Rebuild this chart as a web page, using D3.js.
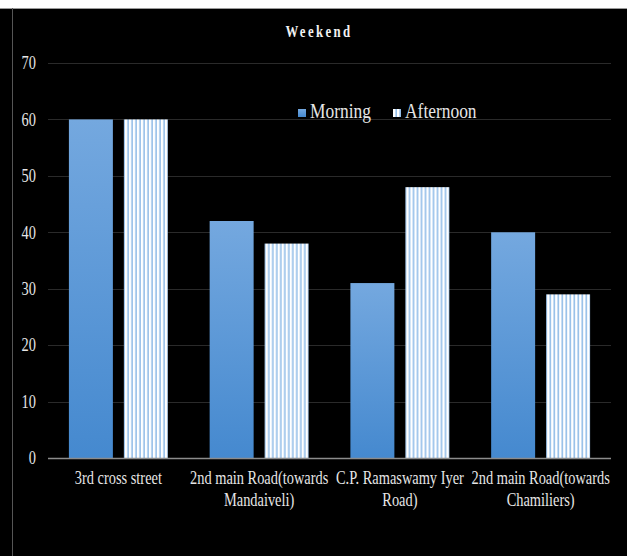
<!DOCTYPE html>
<html>
<head>
<meta charset="utf-8">
<script src="https://cdn.jsdelivr.net/npm/d3@7"></script>
<style>
  body { margin: 0; background: #fff; }
  svg { display: block; }
</style>
</head>
<body>
<script>
// Data
const categories = [
  ['3rd cross street'],
  ['2nd main Road(towards', 'Mandaiveli)'],
  ['C.P. Ramaswamy Iyer', 'Road)'],
  ['2nd main Road(towards', 'Chamiliers)']
];
const seriesNames = ['Morning', 'Afternoon'];
const morning = [60, 42, 31, 40];
const afternoon = [60, 38, 48, 29];
const yTicks = [0, 10, 20, 30, 40, 50, 60, 70];

const width = 627;
const height = 556;
const plotLeft = 48;
const plotRight = 611;
const plotTop = 63;
const plotBottom = 458;
const squeeze = 'scale(0.8,1)';

const svg = d3.select('body')
  .append('svg')
  .attr('width', width)
  .attr('height', height);

const defs = svg.append('defs');

// Morning gradient
const grad = defs.append('linearGradient')
  .attr('id', 'morningGrad')
  .attr('x1', 0).attr('y1', 0).attr('x2', 0).attr('y2', 1);
grad.append('stop').attr('offset', '0%').attr('stop-color', '#74a8df');
grad.append('stop').attr('offset', '100%').attr('stop-color', '#4589cf');

// Afternoon stripes
const pat = defs.append('pattern')
  .attr('id', 'stripes')
  .attr('patternUnits', 'userSpaceOnUse')
  .attr('width', 4)
  .attr('height', 4);
pat.append('rect').attr('width', 4).attr('height', 4).attr('fill', '#ffffff');
pat.append('rect').attr('x', 2.5).attr('width', 1.3).attr('height', 4).attr('fill', '#7aaee3');

// Background
svg.append('rect')
  .attr('x', 0).attr('y', 8)
  .attr('width', width).attr('height', height - 8)
  .attr('fill', '#000');
svg.append('line')
  .attr('x1', 0).attr('x2', width)
  .attr('y1', 8.5).attr('y2', 8.5)
  .attr('stroke', '#9a9a9a');
svg.append('line')
  .attr('x1', 12.5).attr('x2', 12.5)
  .attr('y1', 8).attr('y2', height)
  .attr('stroke', '#555');

// Scales
const x0 = d3.scaleBand()
  .domain(d3.range(categories.length))
  .range([plotLeft, plotRight])
  .paddingInner(0.297)
  .paddingOuter(0.1485);

const x1 = d3.scaleBand()
  .domain(seriesNames)
  .range([0, x0.bandwidth()])
  .paddingInner(0.2);

const y = d3.scaleLinear()
  .domain([0, 70])
  .range([plotBottom, plotTop]);

// Gridlines
svg.append('g')
  .selectAll('line')
  .data(yTicks.filter((d) => d > 0))
  .join('line')
  .attr('x1', plotLeft).attr('x2', plotRight)
  .attr('y1', (d) => Math.round(y(d)) + 0.5)
  .attr('y2', (d) => Math.round(y(d)) + 0.5)
  .attr('stroke', '#2a2a2a');

// Y axis labels
const yAxis = d3.axisLeft(y)
  .tickValues(yTicks)
  .tickSize(0)
  .tickPadding(0);
const yAxisG = svg.append('g')
  .attr('transform', 'translate(36,0)')
  .call(yAxis);
yAxisG.select('.domain').remove();
yAxisG.selectAll('text')
  .attr('fill', '#e6e6e6')
  .attr('font-family', '"Liberation Serif", serif')
  .attr('font-size', '18px')
  .attr('transform', squeeze);

// Bars
const groups = svg.append('g')
  .selectAll('g')
  .data(categories.map((c, i) => i))
  .join('g')
  .attr('transform', (i) => `translate(${x0(i)},0)`);

groups.append('rect')
  .attr('x', x1('Morning'))
  .attr('y', (i) => y(morning[i]))
  .attr('width', x1.bandwidth())
  .attr('height', (i) => y(0) - y(morning[i]))
  .attr('fill', 'url(#morningGrad)');

groups.append('rect')
  .attr('x', x1('Afternoon'))
  .attr('y', (i) => y(afternoon[i]))
  .attr('width', x1.bandwidth())
  .attr('height', (i) => y(0) - y(afternoon[i]))
  .attr('fill', 'url(#stripes)');

// Baseline
svg.append('line')
  .attr('x1', plotLeft).attr('x2', plotRight)
  .attr('y1', plotBottom + 0.5).attr('y2', plotBottom + 0.5)
  .attr('stroke', '#8c8c8c')
  .attr('stroke-width', 1.5);

// Category labels
const catText = svg.append('g')
  .selectAll('g')
  .data(categories)
  .join('g')
  .attr('transform', (d, i) => `translate(${x0(i) + x0.bandwidth() / 2},484) ${squeeze}`)
  .append('text')
  .attr('text-anchor', 'middle')
  .attr('fill', '#e6e6e6')
  .attr('font-family', '"Liberation Serif", serif')
  .attr('font-size', '18px');
catText.selectAll('tspan')
  .data((d) => d)
  .join('tspan')
  .attr('x', 0)
  .attr('dy', (d, j) => (j === 0 ? 0 : 22))
  .text((d) => d);

// Title
svg.append('text')
  .attr('transform', `translate(319,37) ${squeeze}`)
  .attr('text-anchor', 'middle')
  .attr('fill', '#f2f2f2')
  .attr('font-family', '"Liberation Serif", serif')
  .attr('font-size', '16px')
  .attr('font-weight', 'bold')
  .attr('letter-spacing', '3px')
  .text('Weekend');

// Legend
const legend = svg.append('g')
  .attr('transform', 'translate(298,109)');
const legendItems = [
  { name: seriesNames[0], fill: 'url(#morningGrad)', x: 0 },
  { name: seriesNames[1], fill: 'url(#stripes)', x: 95 }
];
const li = legend.selectAll('g')
  .data(legendItems)
  .join('g')
  .attr('transform', (d) => `translate(${d.x},0)`);
li.append('rect')
  .attr('width', 8).attr('height', 8)
  .attr('fill', (d) => d.fill);
li.append('text')
  .attr('transform', 'translate(12,9) scale(0.83,1)')
  .attr('fill', '#e6e6e6')
  .attr('font-family', '"Liberation Serif", serif')
  .attr('font-size', '21px')
  .text((d) => d.name);
</script>
</body>
</html>
